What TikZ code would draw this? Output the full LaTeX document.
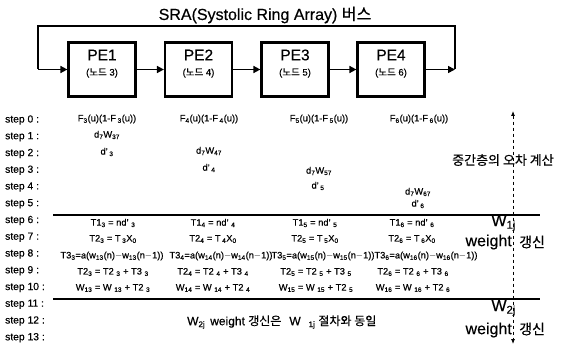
\documentclass[tikz,border=0pt]{standalone}
\usepackage{fontspec}
\setmainfont[FakeBold=0.4]{Liberation Sans}
\newfontfamily\kr[FakeBold=0.3]{Noto Sans CJK KR}
\usetikzlibrary{arrows.meta}
\newcommand{\ssub}[1]{\textsubscript{#1}}
\begin{document}
\begin{tikzpicture}[x=1pt,y=-1pt,
  pebox/.style={draw, line width=2.2pt, minimum width=67pt, minimum height=54pt, inner sep=0pt},
  petxt/.style={font=\fontsize{15.5}{17}\selectfont, inner sep=0pt},
  nodetxt/.style={font=\fontsize{9.5}{11}\selectfont, inner sep=0pt},
  steplbl/.style={font=\fontsize{10.3}{12}\selectfont, anchor=west, inner sep=0pt},
  eq/.style={font=\fontsize{9.3}{11}\selectfont, inner sep=0pt},
  bus/.style={line width=1.6pt},
  ar/.style={bus, -{Triangle[length=7pt,width=7pt]}},
  sep/.style={line width=2.2pt},
  big/.style={font=\fontsize{16}{18}\selectfont, inner sep=0pt},
  mid/.style={font=\fontsize{14}{16}\selectfont, inner sep=0pt}]
\useasboundingbox (0,0) rectangle (561,347);

% title and ring bus
\node[big] (title) at (265,15) {SRA(Systolic Ring Array) {\kr 버스}};
\node[pebox] (pe1) at (102,69.5) {};
\node[pebox] (pe2) at (198.5,69.5) {};
\node[pebox] (pe3) at (295,69.5) {};
\node[pebox] (pe4) at (391,69.5) {};
\node[petxt] (pe1a) at (102,55) {PE1};
\node[petxt] (pe2a) at (198.5,55) {PE2};
\node[petxt] (pe3a) at (295,55) {PE3};
\node[petxt] (pe4a) at (391,55) {PE4};
\node[nodetxt] (pe1b) at (102,73) {({\kr 노드} 3)};
\node[nodetxt] (pe2b) at (198.5,73) {({\kr 노드} 4)};
\node[nodetxt] (pe3b) at (295,73) {({\kr 노드} 5)};
\node[nodetxt] (pe4b) at (391,73) {({\kr 노드} 6)};
\coordinate (rin) at (455,69.5);
\coordinate (rtop) at (455,26);
\coordinate (ltop) at (38,26);
\coordinate (lin) at (38,69.5);
\draw[bus] (rin) -- (rtop) -- (ltop) -- (lin);
\draw[ar] (lin) -- (pe1.west);
\draw[ar] (pe1.east) -- (pe2.west);
\draw[ar] (pe2.east) -- (pe3.west);
\draw[ar] (pe3.east) -- (pe4.west);
\draw[ar] (pe4.east) -- (rin);

% step labels
\foreach \k in {0,...,13} {
  \node[steplbl] (s\k) at (5,{120+16.75*\k}) {step \k\ :};
}

% upper rows
\node[eq] (f3) at (107,119) {F\ssub{3}(u)(1-F\,\ssub{3}(u))};
\node[eq] (f4) at (209,119) {F\ssub{4}(u)(1-F\,\ssub{4}(u))};
\node[eq] (f5) at (319,119) {F\ssub{5}(u)(1-F\,\ssub{5}(u))};
\node[eq] (f6) at (419,119) {F\ssub{6}(u)(1-F\,\ssub{6}(u))};
\node[eq] (dw3) at (107,135) {d\ssub{7}W\ssub{37}};
\node[eq] (dd3) at (107,152) {d'\,\ssub{3}};
\node[eq] (dw4) at (209,151) {d\ssub{7}W\ssub{47}};
\node[eq] (dd4) at (209,168) {d'\,\ssub{4}};
\node[eq] (dw5) at (319,171) {d\ssub{7}W\ssub{57}};
\node[eq] (dd5) at (318,186) {d'\,\ssub{5}};
\node[eq] (dw6) at (418,192) {d\ssub{7}W\ssub{67}};
\node[eq] (dd6) at (418,204) {d'\,\ssub{6}};

% separator lines
\coordinate (l1a) at (53,215);
\coordinate (l1b) at (540,215);
\coordinate (l2a) at (53,299);
\coordinate (l2b) at (540,299);
\draw[sep] (l1a) -- (l1b);
\draw[sep] (l2a) -- (l2b);

% lower rows
\foreach \c/\x/\y/\z in {3/113/112/113, 4/213/221/213, 5/315/323/316, 6/412/426/413} {
  \node[eq] (ta\c) at (\x,223) {T1\ssub{\c}\ =\ nd'\ \ssub{\c}};
  \node[eq] (tb\c) at (\x,239) {T2\ssub{\c}\ =\ T\,\ssub{\c}X\ssub{0}};
  \node[eq] (tc\c) at (\y,256) {T3\ssub{\c}=a(w\ssub{1\c}(n)$-$w\ssub{1\c}(n$-$1))};
  \node[eq] (td\c) at (\z,272) {T2\ssub{\c}\ =\ T2\ \ssub{\c}\ +\ T3\ \ssub{\c}};
  \node[eq] (te\c) at (\z,288) {W\ssub{1\c}\ =\ W\ \ssub{1\c}\ +\ T2\ \ssub{\c}};
}

% right side annotations
\coordinate (vtop) at (513,111);
\coordinate (vbot) at (513,344);
\draw[line width=0.8pt, dash pattern=on 3pt off 3pt, {Latex[length=5pt,width=4pt]}-{Latex[length=5pt,width=4pt]}] (vtop) -- (vbot);
\node[font=\fontsize{13}{15}\selectfont, inner sep=0pt, anchor=west] (err) at (452,160) {\kr 중간층의 오차 계산};
\node[big, anchor=east] (w1) at (516,223) {W\ssub{1j}};
\node[big, anchor=east] (wt1) at (512,242) {weight};
\node[mid, anchor=west] (up1) at (519,242) {\kr 갱신};
\node[big, anchor=east] (w2) at (516,308) {W\ssub{2j}};
\node[big, anchor=east] (wt2) at (512,330) {weight};
\node[mid, anchor=west] (up2) at (519,329) {\kr 갱신};

% step 12 text
\node[font=\fontsize{12}{14}\selectfont, anchor=west, inner sep=0pt] (same) at (187,322)
  {W\ssub{2j}\hspace{5pt}weight {\kr 갱신은}\hspace{8pt}W\hspace{8pt}\ssub{1j}\hspace{3pt}{\kr 절차와 동일}};
\end{tikzpicture}
\end{document}
